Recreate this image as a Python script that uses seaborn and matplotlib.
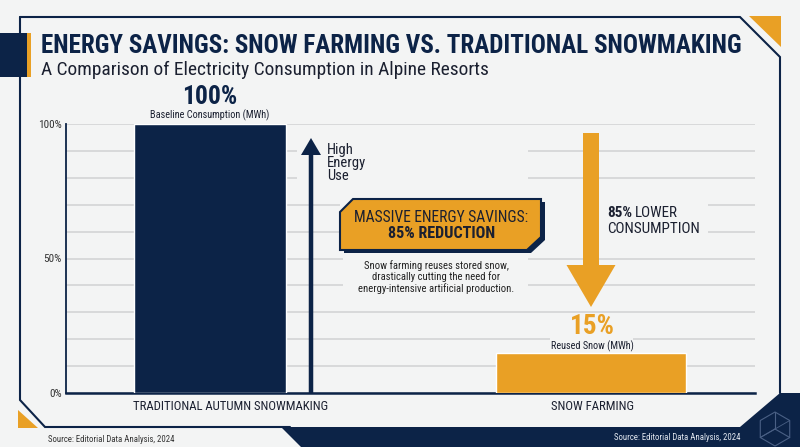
import matplotlib
matplotlib.use("Agg")
import matplotlib.pyplot as plt
import seaborn as sns
from matplotlib import font_manager
from matplotlib.patches import Polygon, Rectangle, FancyArrow

# данные графика
categories = ["TRADITIONAL AUTUMN SNOWMAKING", "SNOW FARMING"]
consumption = [100, 15]
value_labels = ["100%", "15%"]
value_notes = ["Baseline Consumption (MWh)", "Reused Snow (MWh)"]
y_ticks = [0, 50, 100]
y_tick_labels = ["0%", "50%", "100%"]
grid_levels = [10, 20, 30, 40, 50, 60, 70, 80, 90, 100]

title = "ENERGY SAVINGS: SNOW FARMING VS. TRADITIONAL SNOWMAKING"
subtitle = "A Comparison of Electricity Consumption in Alpine Resorts"
source = "Source: Editorial Data Analysis, 2024"
callout_1 = "MASSIVE ENERGY SAVINGS:"
callout_2 = "85% REDUCTION"
callout_body = ("Snow farming reuses stored snow,\n"
                "drastically cutting the need for\n"
                "energy-intensive artificial production.")

NAVY = "#0c2347"
ORANGE = "#e9a025"
BG = "#f3f4f4"
GRID = "#d8d9da"
INK = "#1b2030"

sns.set_theme(style="white")

# узкий шрифт, если есть
installed = {f.name for f in font_manager.fontManager.ttflist}
FONT = "Roboto"
for name in ["Roboto Condensed", "Liberation Sans Narrow", "Open Sans Condensed"]:
    if name in installed:
        FONT = name
        break
plt.rcParams["font.family"] = [FONT, "DejaVu Sans"]

fig = plt.figure(figsize=(8, 4.47), dpi=100, facecolor=BG)
renderer = fig.canvas.get_renderer()


def fit(t, target):
    # подгоняем размер шрифта под ширину в пикселях
    w = t.get_window_extent(renderer).width
    t.set_fontsize(t.get_fontsize() * target / w)
    return t


# основная ось с барами
ax = fig.add_axes([66 / 800, 54 / 447, 689 / 800, 269 / 447])
ax.set_facecolor(BG)
sns.barplot(x=categories, y=consumption, hue=categories, palette=[NAVY, ORANGE],
            legend=False, saturation=1, width=0.45, ax=ax, zorder=3)
bar_widths = [0.40, 0.50]
for patch, w in zip(ax.patches, bar_widths):
    c = patch.get_x() + patch.get_width() / 2
    patch.set_x(c - w / 2)
    patch.set_width(w)

ax.set_xlim(-0.378, 1.43)
ax.set_ylim(0, 100)
ax.set_axisbelow(True)
ax.set_yticks(y_ticks, y_tick_labels)
ax.set_yticks(grid_levels, minor=True)
ax.yaxis.grid(True, which="both", color=GRID, lw=1.4)
ax.xaxis.grid(False)
ax.set_xticks([0.055, 1.003], categories)
ax.tick_params(axis="y", which="both", length=0, pad=3, labelsize=8, labelcolor="#333333")
ax.tick_params(axis="x", length=0, pad=5, labelsize=10, labelcolor=INK)
ax.set_xlabel("")
ax.set_ylabel("")
for s in ["top", "right"]:
    ax.spines[s].set_visible(False)
ax.spines["left"].set_color(NAVY)
ax.spines["left"].set_linewidth(1.3)
ax.spines["bottom"].set_color(NAVY)
ax.spines["bottom"].set_linewidth(1.8)

xl = ax.get_xticklabels()
fit(xl[0], 196)
for t in xl[1:]:
    t.set_fontsize(xl[0].get_fontsize())
yl = ax.get_yticklabels()
fit(yl[-1], 24)
ax.tick_params(axis="y", labelsize=yl[-1].get_fontsize())

# оверлей в пикселях для оформления
ov = fig.add_axes([0, 0, 1, 1], zorder=5)
ov.set_xlim(0, 800)
ov.set_ylim(447, 0)
ov.axis("off")
ov.patch.set_alpha(0)

# рамка
ov.plot([20, 740, 780, 780], [17, 17, 57, 393], color=NAVY, lw=1.5, solid_joinstyle="miter")
ov.plot([20, 20, 45, 290], [17, 400, 427, 427], color=NAVY, lw=1.5, solid_joinstyle="miter")
ov.add_patch(Polygon([(749, 16), (781, 16), (781, 47)], closed=True, color=ORANGE, lw=0))
ov.add_patch(Polygon([(18, 410), (18, 428), (38, 428)], closed=True, color=ORANGE, lw=0))
ov.add_patch(Rectangle((0, 33), 27, 44, color=NAVY, lw=0))
ov.add_patch(Rectangle((27, 33), 4, 44, color=ORANGE, lw=0))
ov.add_patch(Polygon([(281, 427), (740, 427), (780, 393), (800, 393), (800, 447), (301, 447)],
                     closed=True, color=NAVY, lw=0))

# значок-куб
hx, hy, r = 775, 429, 17
hexa = [(hx + r * 0.866, hy - r * 0.5), (hx, hy - r), (hx - r * 0.866, hy - r * 0.5),
        (hx - r * 0.866, hy + r * 0.5), (hx, hy + r), (hx + r * 0.866, hy + r * 0.5)]
ov.add_patch(Polygon(hexa, closed=True, fill=False, ec="#4a6085", lw=0.8))
for i in [1, 3, 5]:
    ov.plot([hx, hexa[i][0]], [hy, hexa[i][1]], color="#4a6085", lw=0.8)
ov.plot([hexa[0][0], hexa[3][0]], [hexa[0][1], hexa[3][1]], color="#4a6085", lw=0.6)

# фон под подписями (разрывы сетки)
for x0, y0, w, h in [(297, 140, 231, 45), (340, 190, 368, 52), (343, 250, 185, 44), (550, 316, 83, 36)]:
    ov.add_patch(Rectangle((x0, y0), w, h, color=BG, lw=0))

# стрелки
ov.add_patch(FancyArrow(311, 393, 0, -(393 - 138), width=4.5, head_width=20, head_length=17,
                        length_includes_head=True, color=NAVY, lw=0))
ov.add_patch(FancyArrow(591, 133, 0, 307 - 133, width=16, head_width=49, head_length=42,
                        length_includes_head=True, color=ORANGE, lw=0))

# заголовки
fit(ov.text(41, 46, title, fontsize=18, fontweight="bold", color=NAVY, va="center"), 703)
fit(ov.text(41, 70, subtitle, fontsize=13, color=INK, va="center"), 445)

# подписи значений
fit(ov.text(210, 97, value_labels[0], fontsize=18, fontweight="bold", color=NAVY,
            ha="center", va="center"), 55)
fit(ov.text(210, 115, value_notes[0], fontsize=7.5, color=INK, ha="center", va="center"), 119)
fit(ov.text(592, 326, value_labels[1], fontsize=19, fontweight="bold", color=ORANGE,
            ha="center", va="center"), 45)
fit(ov.text(592, 346, value_notes[1], fontsize=7.5, color=INK, ha="center", va="center"), 83)

# high energy use
ov.text(327, 143, "High\nEnergy\nUse", fontsize=10.5, color=INK, va="top", linespacing=0.92)

# 85% lower consumption
t_cons = fit(ov.text(607, 229, "CONSUMPTION", fontsize=12, color=INK, va="center"), 93)
fs = t_cons.get_fontsize()
t85 = ov.text(607, 213, "85%", fontsize=fs, fontweight="bold", color=INK, va="center")
x_end = t85.get_window_extent(renderer).x1
ov.text(x_end + 3, 213, "LOWER", fontsize=fs, color=INK, va="center")

# выноска
box = [(353, 199), (541, 199), (541, 237), (527, 250), (340, 250), (340, 212)]
ov.add_patch(Polygon([(x + 4, y + 3) for x, y in box], closed=True, color=NAVY, lw=0))
ov.add_patch(Polygon(box, closed=True, fc=ORANGE, ec=NAVY, lw=1.5))
fit(ov.text(441, 217, callout_1, fontsize=12, color=INK, ha="center", va="center"), 174)
fit(ov.text(442, 234, callout_2, fontsize=12, fontweight="bold", color=INK, ha="center", va="center"), 107)
fit(ov.text(436, 277, callout_body, fontsize=8, color="#222222", ha="center", va="center",
            linespacing=1.05), 155)

# источники
fit(ov.text(48, 439, source, fontsize=7.5, color="#333333", va="center"), 127)
fit(ov.text(740, 438, source, fontsize=7.5, color="#e3e8f0", ha="right", va="center"), 127)

fig.savefig("out.png", dpi=100, facecolor=BG)
